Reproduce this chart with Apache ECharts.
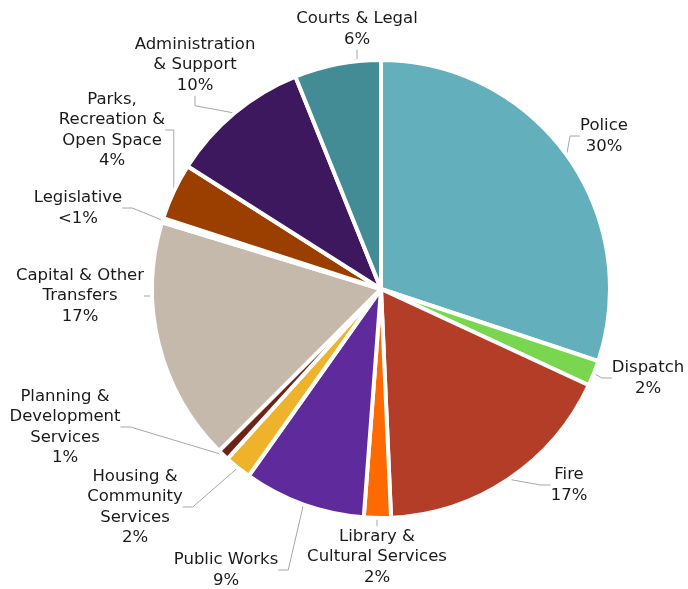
<!DOCTYPE html>
<html>
<head>
<meta charset="utf-8">
<script src="https://cdn.jsdelivr.net/npm/echarts@6/dist/echarts.min.js"></script>
<style>
  html, body { margin: 0; padding: 0; background: #fff; }
  #chart { width: 688px; height: 589px; }
</style>
</head>
<body>
<div id="chart"></div>
<script>
// categories, clockwise from 12 o'clock
const names = [
  'Police', 'Dispatch', 'Fire', 'Library &\nCultural Services', 'Public Works',
  'Housing &\nCommunity\nServices', 'Planning &\nDevelopment\nServices',
  'Capital & Other\nTransfers', 'Legislative', 'Parks,\nRecreation &\nOpen Space',
  'Administration\n& Support', 'Courts & Legal'
]
// share of budget (%)
const values = [30.1, 1.8, 17.4, 1.9, 8.6, 1.9, 0.8, 17.2, 0.3, 4.0, 9.9, 6.1]
// percent labels as printed
const pctLabels = ['30%', '2%', '17%', '2%', '9%', '2%', '1%', '17%', '<1%', '4%', '10%', '6%']

const colors = [
  '#63b0bc', '#7ad64f', '#b43d28', '#ff6a00', '#5e2a9c', '#eeb32a',
  '#6b2416', '#c5b9ab', '#8fd860', '#9a3f00', '#3d185f', '#438c96'
]
// label anchor (center of text block)
const labelPos = [
  [604, 136], [648, 378], [569, 485], [377, 557], [226, 570], [135, 507],
  [65, 427], [80, 296], [78, 208], [112, 130], [195, 65], [357, 29]
]

const chart = echarts.init(document.getElementById('chart'))
chart.setOption({
  animation: false,
  series: [{
    type: 'pie',
    center: [381, 289],
    radius: [0, 229],
    startAngle: 90,
    clockwise: true,
    avoidLabelOverlap: false,
    itemStyle: { borderColor: '#fff', borderWidth: 4 },
    label: {
      show: true,
      fontFamily: 'DejaVu Sans',
      fontSize: 16.5,
      lineHeight: 20.5,
      color: '#1a1a1a',
      align: 'center',
      formatter: p => p.name + '\n' + pctLabels[p.dataIndex]
    },
    labelLine: {
      show: true,
      length: 10,
      length2: 10,
      lineStyle: { color: '#a6a6a6', width: 1 }
    },
    labelLayout: p => ({
      x: labelPos[p.dataIndex][0],
      y: labelPos[p.dataIndex][1],
      align: 'center',
      verticalAlign: 'middle'
    }),
    data: names.map((n, i) => ({ name: n, value: values[i], itemStyle: { color: colors[i] } }))
  }]
})
</script>
</body>
</html>
